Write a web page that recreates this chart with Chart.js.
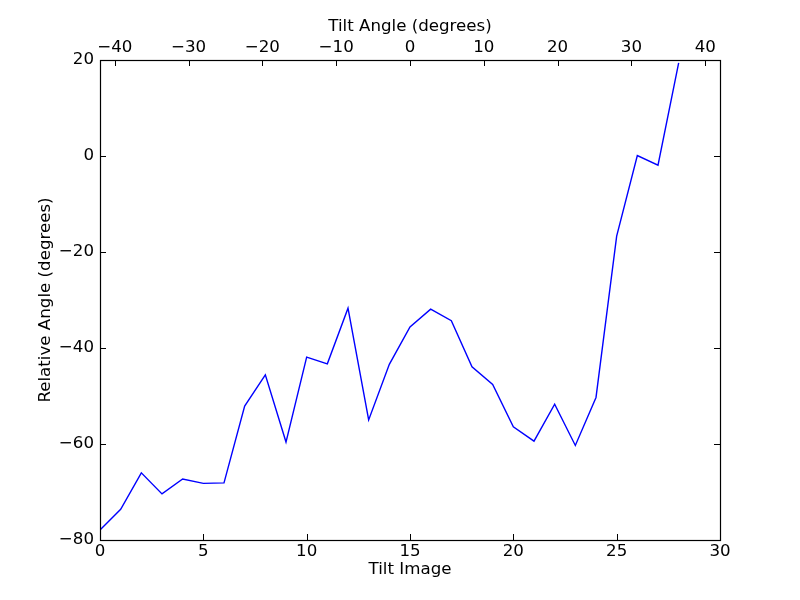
<!DOCTYPE html>
<html>
<head>
<meta charset="utf-8">
<script src="https://cdn.jsdelivr.net/npm/chart.js@4/dist/chart.umd.min.js"></script>
<style>
  html, body { margin: 0; padding: 0; background: #fff; }
  #wrap { width: 800px; height: 600px; }
</style>
</head>
<body>
<div id="wrap"><canvas id="c" width="800" height="600"></canvas></div>
<script>
// ---- data ----
const tiltImage = [0,1,2,3,4,5,6,7,8,9,10,11,12,13,14,15,16,17,18,19,20,21,22,23,24,25,26,27,28];
const relativeAngle = [-77.9,-73.6,-66.0,-70.4,-67.3,-68.2,-68.1,-52.1,-45.6,-59.6,-41.9,-43.3,-31.7,-55.0,-43.4,
                       -35.6,-31.9,-34.3,-43.9,-47.6,-56.4,-59.4,-51.7,-60.3,-50.3,-16.7,0.1,-1.9,19.4];
const bottomTicks = [0,5,10,15,20,25,30];
const topTicks = [-40,-30,-20,-10,0,10,20,30,40];
const yTicks = [-80,-60,-40,-20,0,20];

const FONT = { family: 'DejaVu Sans', size: 16.67 };
const minus = v => String(v).replace('-', '\u2212');

const frameTicks = {
  id: 'frameTicks',
  afterDraw(chart) {
    const ctx = chart.ctx, a = chart.chartArea;
    const L = 6;
    ctx.save();
    ctx.strokeStyle = '#000';
    ctx.lineWidth = 1;
    ctx.beginPath();
    const xs = chart.scales.x, xt = chart.scales.x2, ys = chart.scales.y;
    bottomTicks.forEach(v => {
      const p = Math.round(xs.getPixelForValue(v)) + 0.5;
      ctx.moveTo(p, a.bottom); ctx.lineTo(p, a.bottom - L);
    });
    topTicks.forEach(v => {
      const p = Math.round(xt.getPixelForValue(v)) + 0.5;
      ctx.moveTo(p, a.top); ctx.lineTo(p, a.top + L);
    });
    yTicks.forEach(v => {
      const p = Math.round(ys.getPixelForValue(v)) + 0.5;
      ctx.moveTo(a.left, p); ctx.lineTo(a.left + L, p);
      ctx.moveTo(a.right, p); ctx.lineTo(a.right - L, p);
    });
    ctx.stroke();
    ctx.lineWidth = 1.2;
    ctx.strokeRect(a.left + 0.5, a.top + 0.5, a.right - a.left, a.bottom - a.top);
    ctx.restore();
  }
};

Chart.defaults.color = '#000';
Chart.defaults.font.family = 'DejaVu Sans';

new Chart(document.getElementById('c'), {
  type: 'line',
  data: {
    datasets: [{
      data: tiltImage.map((x, i) => ({ x: x, y: relativeAngle[i] })),
      borderColor: '#0000ff',
      borderWidth: 1.4,
      pointRadius: 0,
      tension: 0,
      fill: false,
      xAxisID: 'x',
      yAxisID: 'y'
    }]
  },
  options: {
    responsive: false,
    animation: false,
    devicePixelRatio: 1,
    layout: { padding: { left: 0, right: 80, top: 0, bottom: 0 } },
    plugins: { legend: { display: false }, tooltip: { enabled: false } },
    scales: {
      x: {
        type: 'linear', position: 'bottom', min: 0, max: 30,
        afterBuildTicks: s => { s.ticks = bottomTicks.map(v => ({ value: v })); },
        afterFit: s => { s.height = 60; },
        grid: { display: false, drawTicks: false },
        border: { display: false },
        ticks: { font: FONT, padding: 2, maxRotation: 0, autoSkip: false, callback: v => minus(v) },
        title: { display: true, text: 'Tilt Image', font: FONT, padding: { top: 0, bottom: 20 } }
      },
      x2: {
        type: 'linear', position: 'top', min: -42, max: 42,
        afterBuildTicks: s => { s.ticks = topTicks.map(v => ({ value: v })); },
        afterFit: s => { s.height = 60; },
        grid: { display: false, drawTicks: false },
        border: { display: false },
        ticks: { font: FONT, padding: 2, maxRotation: 0, autoSkip: false, callback: v => minus(v) },
        title: { display: true, text: 'Tilt Angle (degrees)', font: FONT, padding: { top: 17, bottom: 0 } }
      },
      y: {
        type: 'linear', position: 'left', min: -80, max: 20,
        afterBuildTicks: s => { s.ticks = yTicks.map(v => ({ value: v })); },
        afterFit: s => { s.width = 100; },
        grid: { display: false, drawTicks: false },
        border: { display: false },
        ticks: { font: FONT, padding: 6, autoSkip: false, callback: v => minus(v) },
        title: { display: true, text: 'Relative Angle (degrees)', font: FONT, padding: { top: 36, bottom: 0 } }
      }
    }
  },
  plugins: [frameTicks]
});
</script>
</body>
</html>
